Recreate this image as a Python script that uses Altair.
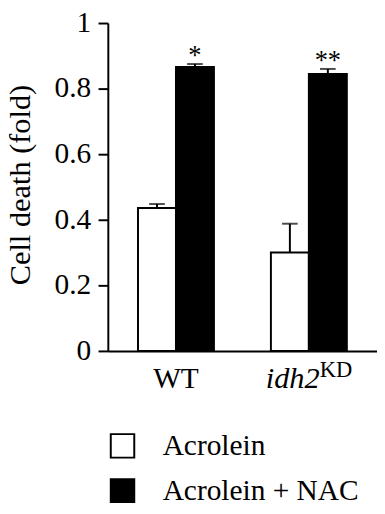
import altair as alt
import pandas as pd

groups = ["WT", "idh2KD"]
treatments = ["Acrolein", "Acrolein + NAC"]
acrolein = [0.436, 0.300]
acrolein_err = [0.012, 0.088]
nac = [0.866, 0.845]
nac_err = [0.009, 0.015]
stars = ["*", "**"]
tick_values = [0, 0.2, 0.4, 0.6, 0.8, 1]
tick_labels = ["0", "0.2", "0.4", "0.6", "0.8", "1"]
y_title = "Cell death (fold)"

rows = []
for i, g in enumerate(groups):
    rows.append(dict(group=g, treatment=treatments[0], value=acrolein[i],
                     top=acrolein[i] + acrolein_err[i], star=""))
    rows.append(dict(group=g, treatment=treatments[1], value=nac[i],
                     top=nac[i] + nac_err[i], star=stars[i]))
df = pd.DataFrame(rows)

FONT = "Liberation Serif"
W, H = 275, 335

y_axis = alt.Axis(values=tick_values, labels=False, title=None, grid=False,
                  tickSize=10, tickWidth=2, tickColor="black",
                  domainWidth=2, domainColor="black")
x_axis = alt.Axis(labels=False, ticks=False, title=None, domainWidth=2,
                  domainColor="black", grid=False)

x_scale = alt.Scale(paddingInner=0.4286, paddingOuter=0.227)
x_enc = alt.X("group:N", sort=groups, scale=x_scale, axis=x_axis)
xo_enc = alt.XOffset("treatment:N", sort=treatments,
                     scale=alt.Scale(paddingInner=0, paddingOuter=0))
y_scale = alt.Scale(domain=[0, 1], nice=False)

base = alt.Chart(df)

bars = base.mark_bar(stroke="black", strokeWidth=2).encode(
    x=x_enc, xOffset=xo_enc,
    y=alt.Y("value:Q", scale=y_scale, axis=y_axis),
    fill=alt.Fill("treatment:N", sort=treatments,
                  scale=alt.Scale(domain=treatments, range=["white", "black"]),
                  legend=alt.Legend(orient="none", legendX=0, legendY=417,
                                    title=None, symbolType="square",
                                    symbolSize=576, symbolStrokeColor="black",
                                    symbolStrokeWidth=2, labelLimit=400,
                                    labelFont=FONT, labelFontSize=30,
                                    labelColor="black",
                                    labelOffset=26, rowPadding=14)),
)

y_top = alt.Y("top:Q", scale=y_scale, axis=y_axis)

err = base.mark_rule(color="black", strokeWidth=2).encode(
    x=x_enc, xOffset=xo_enc, y=y_top, y2="value:Q")

cap = base.mark_tick(color="black", thickness=2, size=16).encode(
    x=x_enc, xOffset=xo_enc, y=y_top)

star = base.mark_text(font=FONT, fontSize=27, baseline="alphabetic",
                      dy=0, color="black").encode(
    x=x_enc, xOffset=xo_enc, y=y_top, text="star:N")

# y tick labels and title as text
tick_df = pd.DataFrame({"v": tick_values, "label": tick_labels})
ticklab = alt.Chart(tick_df).mark_text(
    font=FONT, fontSize=30, align="right", baseline="middle", dx=-17,
    color="black"
).encode(x=alt.value(0), y=alt.Y("v:Q", scale=y_scale, axis=y_axis),
         text="label:N")

title_df = pd.DataFrame({"t": [y_title]})
ytitle = alt.Chart(title_df).mark_text(
    font=FONT, fontSize=31, angle=270, align="center", baseline="middle",
    color="black"
).encode(x=alt.value(-89), y=alt.value(H / 2 - 2), text="t:N")

lab_df = pd.DataFrame({"group": groups, "main": ["WT", "idh2"], "sup": ["", "KD"]})
lab = alt.Chart(lab_df)
wt = lab.transform_filter("datum.group == 'WT'").mark_text(
    font=FONT, fontSize=30, baseline="alphabetic", align="center", color="black"
).encode(x=x_enc, y=alt.value(373), text="main:N")
idh = lab.transform_filter("datum.group != 'WT'").mark_text(
    font=FONT, fontSize=31, fontStyle="italic", baseline="alphabetic",
    align="right", dx=11, color="black"
).encode(x=x_enc, y=alt.value(373), text="main:N")
sup = lab.transform_filter("datum.group != 'WT'").mark_text(
    font=FONT, fontSize=23, baseline="alphabetic", align="left", dx=11,
    color="black"
).encode(x=x_enc, y=alt.value(362), text="sup:N")

chart = alt.layer(bars, err, cap, star, ticklab, ytitle, wt, idh, sup).properties(
    width=W, height=H,
    autosize=alt.AutoSizeParams(type="none"),
    padding={"left": 102, "top": 10, "right": 0, "bottom": 150},
).configure(
    font=FONT,
    style={"guide-label": {"font": FONT}, "guide-title": {"font": FONT}},
).configure_view(stroke=None)

chart.save("out.html", embed_options={"renderer": "svg", "actions": False})
